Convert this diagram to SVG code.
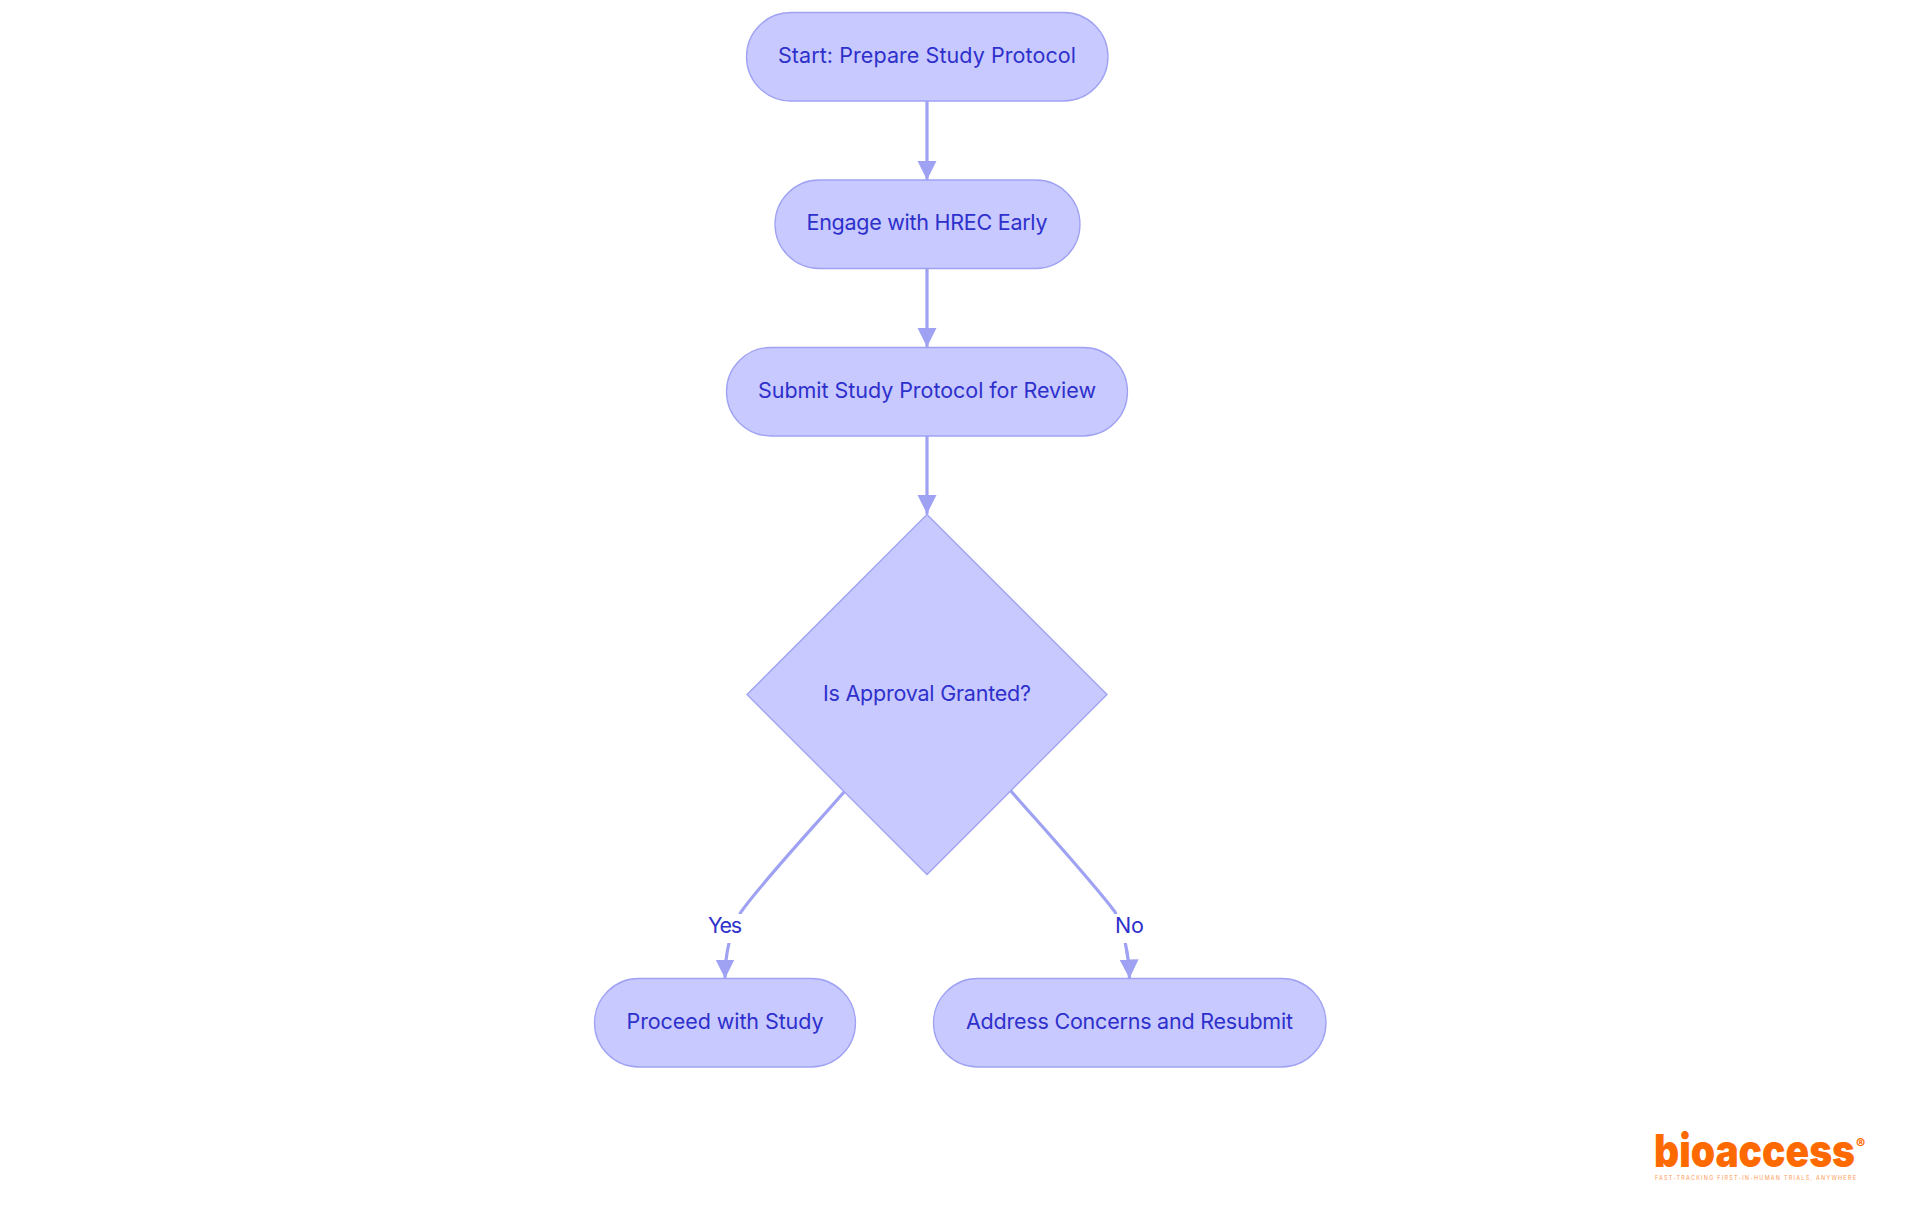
<svg xmlns="http://www.w3.org/2000/svg" width="1920" height="1215" viewBox="0 0 1920 1215">
<style>
.n{fill:#c8c9ff;stroke:#9fa2f3;stroke-width:1.3}
.t{font-family:Inter,"Noto Sans",sans-serif;font-size:21.500px;font-weight:400;fill:#2e30cc;text-anchor:middle;dominant-baseline:central}
.e{fill:none;stroke:#9fa2f3;stroke-width:3.200}
.lb{fill:#fff}
.logo{font-family:Inter,"Liberation Sans",sans-serif;fill:#ff6a00;font-weight:900}
</style>
<defs><marker id="a" markerUnits="userSpaceOnUse" markerWidth="20" markerHeight="20" refX="19" refY="10" orient="auto"><path d="M0 0.500L19 10L0 19.500Z" fill="#9fa2f3"/></marker></defs>
<rect width="1920" height="1215" fill="#fff"/>
<g id="connectors">
<path class="e" marker-end="url(#a)" d="M927 101V180"/>
<path class="e" marker-end="url(#a)" d="M927 268V347"/>
<path class="e" marker-end="url(#a)" d="M927 436V514"/>
<path class="e" marker-end="url(#a)" d="M845 791C800 842 760 885 741 912C730 932 725 955 725 978.500"/>
<path class="e" marker-end="url(#a)" d="M1010 790C1055 841 1095 885 1115 912C1124 932 1129 955 1129.500 978.500"/>
</g>
<g id="n1"><rect class="n" x="746.500" y="12.500" width="361.500" height="88.500" rx="44.250"/><text class="t" x="927" y="55" textLength="298">Start: Prepare Study Protocol</text></g>
<g id="n2"><rect class="n" x="775" y="180" width="305" height="88.500" rx="44.250"/><text class="t" x="927" y="222" textLength="241">Engage with HREC Early</text></g>
<g id="n3"><rect class="n" x="726.500" y="347.500" width="401" height="88.500" rx="44.250"/><text class="t" x="927" y="390" textLength="338">Submit Study Protocol for Review</text></g>
<g id="n4"><path class="n" d="M927 514.500L1107 694.500L927 874.500L747 694.500Z"/><text class="t" x="927" y="693" textLength="208">Is Approval Granted?</text></g>
<g id="n5"><rect class="n" x="594.500" y="978.500" width="261" height="88.500" rx="44.250"/><text class="t" x="725" y="1021" textLength="197">Proceed with Study</text></g>
<g id="n6"><rect class="n" x="933.500" y="978.500" width="392.500" height="88.500" rx="44.250"/><text class="t" x="1129.500" y="1021" textLength="327">Address Concerns and Resubmit</text></g>
<g id="l1"><rect class="lb" x="707" y="914" width="36" height="29"/><text class="t" x="725" y="925" textLength="34">Yes</text></g>
<g id="l2"><rect class="lb" x="1114" y="914" width="31" height="29"/><text class="t" x="1129.500" y="925" textLength="29">No</text></g>
<g id="logo"><text class="logo" x="1654" y="1167" font-size="46" textLength="201" lengthAdjust="spacingAndGlyphs">bioaccess</text>
<text class="logo" x="1856" y="1149" font-size="14" font-weight="700">®</text>
<text x="1655" y="1180" font-family="Inter,sans-serif" font-size="5.500" fill="#ff9a55" textLength="201">FAST-TRACKING FIRST-IN-HUMAN TRIALS, ANYWHERE</text></g>
</svg>
